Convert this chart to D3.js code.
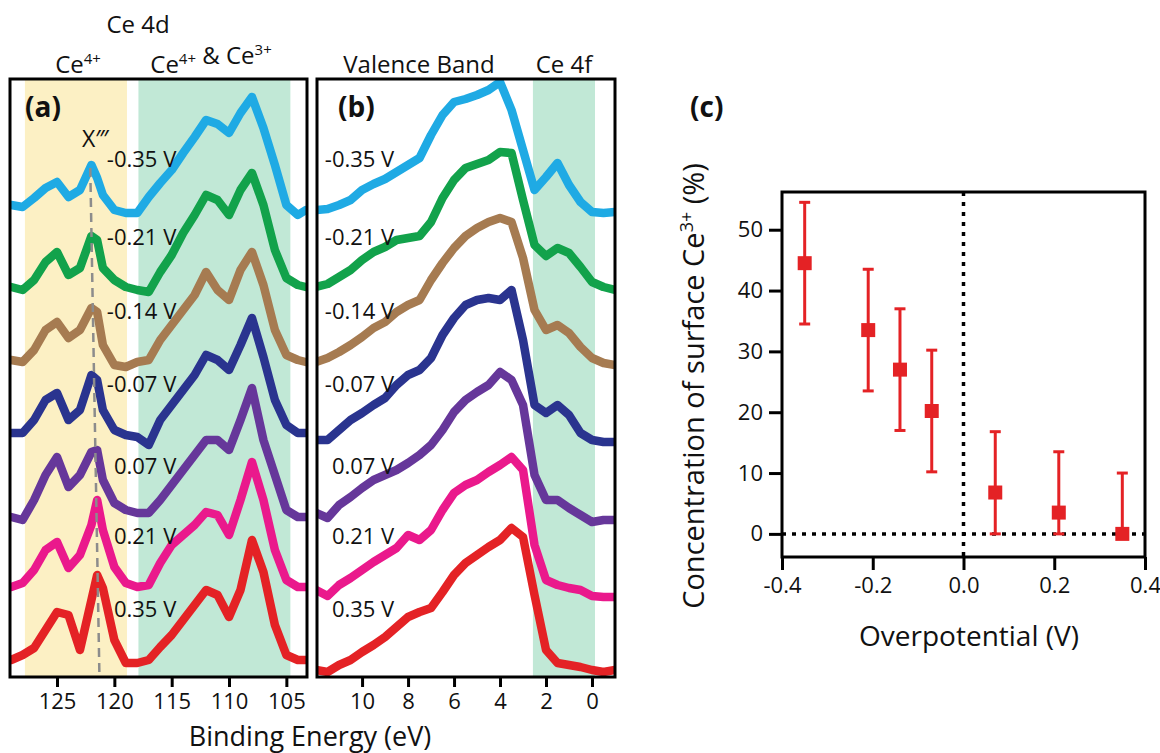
<!DOCTYPE html>
<html lang="en">
<head>
<meta charset="UTF-8">
<title>Ce 4d and valence band spectra</title>
<style>
  body { margin: 0; background: #fff; }
  text { font-family: "Open Sans", "Noto Sans", sans-serif; fill: #111; }
  .frame { fill: none; stroke: #000; stroke-width: 3; }
  .axis line { stroke: #000; stroke-width: 3; }
  .axis path { display: none; }
  .axis text { font-family: "Open Sans", sans-serif; font-size: 22px; fill: #111; }
  .spec { fill: none; stroke-width: 8.5; stroke-linejoin: round; stroke-linecap: round; }
</style>
</head>
<body>
<svg id="chart" width="1160" height="753"></svg>
<script src="https://cdnjs.cloudflare.com/ajax/libs/d3/7.8.5/d3.min.js"></script>
<script>
// ---- data ----
const voltages = ["-0.35 V", "-0.21 V", "-0.14 V", "-0.07 V", "0.07 V", "0.21 V", "0.35 V"];
// vertical stacking offset of each spectrum (a.u.)
const offsets = [467, 389, 315, 242, 160, 90, 17];

// (a) Ce 4d, binding energy (eV)
const energyA = [129, 128, 127, 126, 125, 124, 123, 122, 121.5, 121, 120, 119, 118, 117, 116, 115, 114, 113, 112, 111, 110, 109, 108, 107, 106, 105, 104, 103.3];
const ce4d_m035 = [5, 3, 12, 22, 28, 13, 20, 45, 32, 15, 0, -3, -3, 13, 27, 40, 57, 73, 90, 86, 77, 97, 113, 82, 45, 5, -5, 0];
const ce4d_m021 = [1, -2, 8, 26, 36, 13, 20, 52, 48, 20, 8, 1, -2, -4, 16, 33, 55, 73, 93, 88, 73, 98, 115, 83, 38, 10, 3, 1];
const ce4d_m014 = [2, 0, 12, 32, 40, 24, 32, 54, 50, 17, -3, -5, 0, 2, 22, 37, 52, 67, 90, 72, 62, 92, 110, 77, 32, 7, 2, 0];
const ce4d_m007 = [2, 2, 15, 35, 42, 15, 25, 60, 55, 25, 5, 0, -2, -10, 15, 30, 45, 60, 80, 75, 65, 90, 117, 78, 35, 10, 2, 2];
const ce4d_p007 = [0, -3, 17, 42, 60, 30, 42, 65, 67, 37, 14, 7, 4, 4, 17, 32, 47, 62, 77, 77, 67, 97, 129, 77, 42, 7, 0, 0];
const ce4d_p021 = [0, 4, 17, 37, 45, 19, 32, 62, 87, 57, 20, 4, 0, 2, 24, 42, 52, 62, 75, 72, 52, 87, 125, 87, 37, 7, 0, 0];
const ce4d_p035 = [0, 5, 12, 30, 48, 45, 10, 60, 85, 72, 20, -3, -3, 0, 13, 25, 40, 55, 70, 65, 43, 70, 120, 88, 35, 5, 0, 0];

// (b) valence band, binding energy (eV)
const energyB = [12, 11.5, 11, 10.5, 10, 9.5, 9, 8.5, 8, 7.5, 7, 6.5, 6, 5.5, 5, 4.5, 4, 3.5, 3, 2.5, 2, 1.5, 1, 0.5, 0, -0.5, -1];
const vb_m035 = [0, 1, 5, 10, 20, 26, 31, 38, 45, 52, 75, 95, 108, 111, 115, 120, 128, 100, 60, 20, 33, 47, 25, 8, -2, -3, -2];
const vb_m021 = [1, 4, 11, 18, 28, 36, 41, 48, 50, 52, 66, 90, 108, 120, 124, 128, 136, 135, 88, 43, 32, 40, 35, 21, 6, 1, -2];
const vb_m014 = [0, 4, 10, 17, 25, 34, 40, 50, 57, 62, 82, 99, 114, 126, 134, 140, 144, 140, 104, 52, 32, 37, 29, 15, 4, -1, -3];
const vb_m007 = [-5, -5, 5, 15, 22, 30, 37, 50, 60, 65, 77, 100, 117, 130, 135, 137, 135, 145, 95, 30, 22, 30, 20, 2, -5, -7, -7];
const vb_p007 = [4, -1, 12, 20, 29, 37, 42, 47, 54, 62, 72, 87, 105, 117, 125, 132, 145, 137, 112, 42, 17, 17, 9, 2, -5, -3, -3];
const vb_p021 = [-3, -9, 2, 9, 17, 25, 32, 39, 52, 47, 57, 77, 94, 102, 107, 115, 122, 130, 117, 42, 7, 2, -1, -3, -9, -10, -10];
const vb_p035 = [-10, -12, -5, 0, 8, 15, 23, 33, 43, 48, 52, 68, 85, 97, 105, 113, 120, 132, 123, 65, 10, -3, -5, -7, -10, -12, -10];

const ticksA = [125, 120, 115, 110, 105];
const ticksB = [10, 8, 6, 4, 2, 0];

// (c) surface Ce3+ vs overpotential
const overpotential = [-0.35, -0.21, -0.14, -0.07, 0.07, 0.21, 0.35];
const ce3 = [44.5, 33.5, 27, 20.2, 6.8, 3.5, 0];
const ce3Low = [34.5, 23.5, 17, 10.2, 0, 0, 0];
const ce3High = [54.5, 43.5, 37, 30.2, 16.8, 13.5, 10];
const ticksCx = [-0.4, -0.2, 0, 0.2, 0.4];
const ticksCy = [0, 10, 20, 30, 40, 50];

const colors = ["#1faae4", "#12a24b", "#a67b51", "#2a348f", "#66379a", "#ea198c", "#e42225"];

const ce4dSeries = [ce4d_m035, ce4d_m021, ce4d_m014, ce4d_m007, ce4d_p007, ce4d_p021, ce4d_p035];
const vbSeries = [vb_m035, vb_m021, vb_m014, vb_m007, vb_p007, vb_p021, vb_p035];

const svg = d3.select("#chart");

// shared vertical scale for stacked spectra
const ySp = d3.scaleLinear().domain([0, 598]).range([677, 79]);

function spectrumPanel(id, x, energies, series, bands) {
    const x0 = x.range()[0], x1 = x.range()[1];
    const g = svg.append("g");

    g.append("clipPath").attr("id", "clip-" + id)
      .append("rect").attr("x", x0).attr("y", 79).attr("width", x1 - x0).attr("height", 598);

    const body = g.append("g").attr("clip-path", "url(#clip-" + id + ")");

    bands.forEach(function(b) {
        body.append("rect")
            .attr("x", x(b[0])).attr("y", 79)
            .attr("width", x(b[1]) - x(b[0])).attr("height", 598)
            .attr("fill", b[2]);
    });

    const line = d3.line()
        .x(function(d, i) { return x(energies[i]); });

    series.forEach(function(vals, k) {
        line.y(function(d) { return ySp(d + offsets[k]); });
        body.append("path")
            .attr("class", "spec")
            .attr("stroke", colors[k])
            .attr("d", line(vals));
    });

    g.append("rect").attr("class", "frame")
        .attr("x", x0).attr("y", 79).attr("width", x1 - x0).attr("height", 598);

    return { g: g, body: body };
}

// ---------- panel (a) ----------
const xA = d3.scaleLinear().domain([129.1, 103.2]).range([10, 307]);
const pa = spectrumPanel("a", xA, energyA, ce4dSeries,
    [[127.8, 118.9, "#fcf0c4"], [117.9, 104.65, "#c1e8d6"]]);

// X''' guide
pa.body.append("line")
    .attr("x1", xA(122.1)).attr("y1", ySp(509))
    .attr("x2", xA(121.3)).attr("y2", ySp(0))
    .attr("stroke", "#8c8c8c").attr("stroke-width", 2.5)
    .attr("stroke-dasharray", "9,6");

pa.g.append("text").attr("x", 82).attr("y", 147).attr("font-size", 23).text("X\u2034");

// ---------- panel (b) ----------
const xB = d3.scaleLinear().domain([11.96, -1.0]).range([317, 615]);
const pb = spectrumPanel("b", xB, energyB, vbSeries,
    [[2.57, -0.13, "#c1e8d6"]]);

// voltage labels
voltages.forEach(function(v, k) {
    pa.g.append("text").attr("x", xA(114.6)).attr("y", ySp(offsets[k] + 43))
        .attr("text-anchor", "end").attr("font-size", 22).text(v);
    pb.g.append("text").attr("x", xB(8.6)).attr("y", ySp(offsets[k] + 43))
        .attr("text-anchor", "end").attr("font-size", 22).text(v);
});

// bottom axes
svg.append("g").attr("class", "axis").attr("transform", "translate(0,677)")
    .call(d3.axisBottom(xA).tickValues(ticksA).tickSize(10).tickPadding(6));
svg.append("g").attr("class", "axis").attr("transform", "translate(0,677)")
    .call(d3.axisBottom(xB).tickValues(ticksB).tickSize(10).tickPadding(6));

svg.append("text").attr("x", 310).attr("y", 746).attr("text-anchor", "middle")
    .attr("font-size", 27).text("Binding Energy (eV)");

// panel letters
svg.append("text").attr("x", 25).attr("y", 117).attr("font-size", 28).attr("font-weight", "bold").text("(a)");
svg.append("text").attr("x", 338).attr("y", 117).attr("font-size", 28).attr("font-weight", "bold").text("(b)");
svg.append("text").attr("x", 690).attr("y", 117).attr("font-size", 28).attr("font-weight", "bold").text("(c)");

// headers
function supText(x, y, parts) {
    const t = svg.append("text").attr("x", x).attr("y", y)
        .attr("font-size", 24).attr("text-anchor", "middle");
    parts.forEach(function(p) {
        if (p.sup) {
            t.append("tspan").attr("dy", -9).attr("font-size", 15).text(p.sup);
            t.append("tspan").attr("dy", 9).text("");
        } else {
            t.append("tspan").text(p.t);
        }
    });
    return t;
}
svg.append("text").attr("x", 138).attr("y", 33).attr("text-anchor", "middle").attr("font-size", 24).text("Ce 4d");
supText(78, 73, [{t: "Ce"}, {sup: "4+"}]);
supText(211, 73, [{t: "Ce"}, {sup: "4+"}, {t: " & Ce"}, {sup: "3+"}]);
svg.append("text").attr("x", 419).attr("y", 73).attr("text-anchor", "middle").attr("font-size", 24).text("Valence Band");
svg.append("text").attr("x", 564).attr("y", 73).attr("text-anchor", "middle").attr("font-size", 24).text("Ce 4f");

// ---------- panel (c) ----------
const xC = d3.scaleLinear().domain([-0.4, 0.4]).range([782, 1145]);
const yC = d3.scaleLinear().domain([-3.8, 56.2]).range([557, 192]);
const red = "#e42225";
const gc = svg.append("g");

gc.append("line")
    .attr("x1", xC(0)).attr("x2", xC(0)).attr("y1", yC(56.2)).attr("y2", yC(-3.8))
    .attr("stroke", "#000").attr("stroke-width", 3.5).attr("stroke-dasharray", "4,6");
gc.append("line")
    .attr("x1", xC(-0.4)).attr("x2", xC(0.4)).attr("y1", yC(0)).attr("y2", yC(0))
    .attr("stroke", "#000").attr("stroke-width", 3.5).attr("stroke-dasharray", "4,6");

const pts = gc.selectAll("g.pt").data(overpotential).enter().append("g").attr("class", "pt");
pts.append("line")
    .attr("x1", function(d) { return xC(d); }).attr("x2", function(d) { return xC(d); })
    .attr("y1", function(d, i) { return yC(ce3Low[i]); })
    .attr("y2", function(d, i) { return yC(ce3High[i]); })
    .attr("stroke", red).attr("stroke-width", 3);
pts.append("line")
    .attr("x1", function(d) { return xC(d) - 5.5; }).attr("x2", function(d) { return xC(d) + 5.5; })
    .attr("y1", function(d, i) { return yC(ce3High[i]); })
    .attr("y2", function(d, i) { return yC(ce3High[i]); })
    .attr("stroke", red).attr("stroke-width", 3);
pts.append("line")
    .attr("x1", function(d) { return xC(d) - 5.5; }).attr("x2", function(d) { return xC(d) + 5.5; })
    .attr("y1", function(d, i) { return yC(ce3Low[i]); })
    .attr("y2", function(d, i) { return yC(ce3Low[i]); })
    .attr("stroke", red).attr("stroke-width", 3);
pts.append("rect")
    .attr("x", function(d) { return xC(d) - 7; })
    .attr("y", function(d, i) { return yC(ce3[i]) - 7; })
    .attr("width", 14).attr("height", 14)
    .attr("fill", red);

gc.append("rect").attr("class", "frame")
    .attr("x", 782).attr("y", 192).attr("width", 1145 - 782).attr("height", 557 - 192);

const fmtC = function(d) { return d3.format(".1f")(d).replace("\u2212", "-"); };
svg.append("g").attr("class", "axis").attr("transform", "translate(0,557)")
    .call(d3.axisBottom(xC).tickValues(ticksCx).tickFormat(fmtC).tickSize(13).tickPadding(7));
svg.append("g").attr("class", "axis").attr("transform", "translate(782,0)")
    .call(d3.axisLeft(yC).tickValues(ticksCy).tickSize(13).tickPadding(6));

svg.append("text").attr("x", 969).attr("y", 646).attr("text-anchor", "middle")
    .attr("font-size", 28).text("Overpotential (V)");

const yl = svg.append("text")
    .attr("transform", "translate(704,386) rotate(-90)")
    .attr("text-anchor", "middle").attr("font-size", 29);
yl.append("tspan").text("Concentration of surface Ce");
yl.append("tspan").attr("dy", -11).attr("font-size", 18).text("3+");
yl.append("tspan").attr("dy", 11).text(" (%)");
</script>
</body>
</html>
